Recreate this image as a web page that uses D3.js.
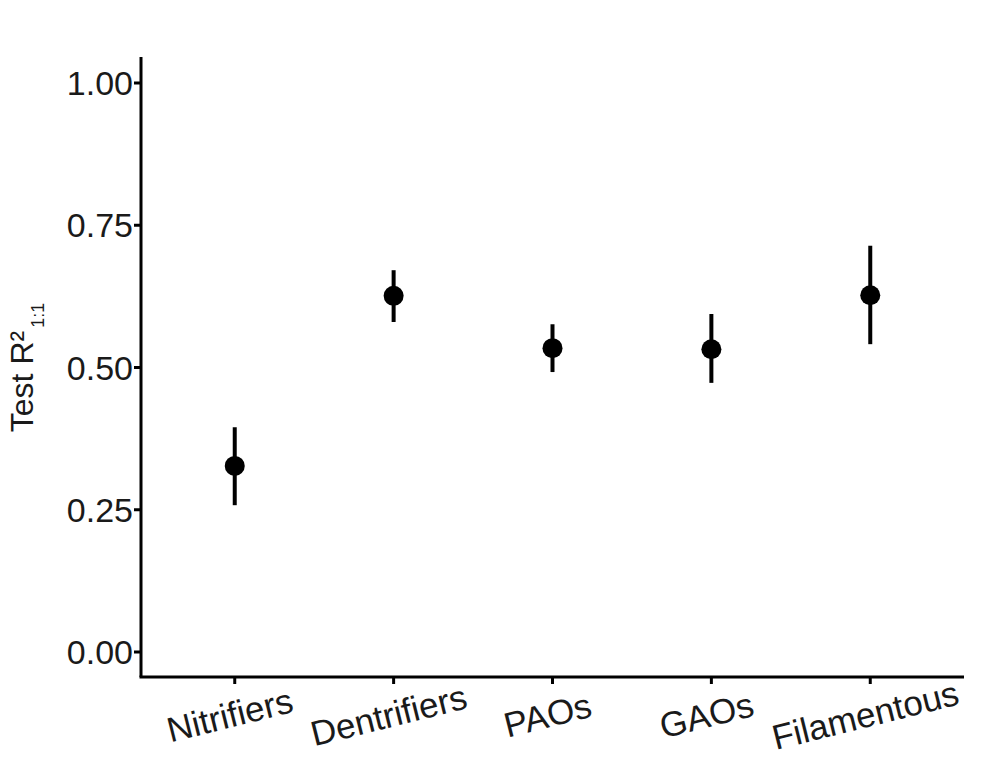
<!DOCTYPE html><html><head><meta charset="utf-8"><script src="https://d3js.org/d3.v7.min.js"></script>
<style>body{margin:0;background:#fff}</style></head><body><script>
const categories=["Nitrifiers","Dentrifiers","PAOs","GAOs","Filamentous"];
const means=[0.327,0.626,0.534,0.532,0.627];
const lows=[0.258,0.580,0.492,0.473,0.541];
const highs=[0.395,0.671,0.576,0.594,0.714];
const yTicks=[0,0.25,0.5,0.75,1];
const W=984,H=766,L=141,R=964,T=57,B=677;
const svg=d3.select("body").append("svg").attr("width",W).attr("height",H);
const x=d3.scalePoint().domain(categories).range([L,R]).padding(0.59);
const y=d3.scaleLinear().domain([0,1]).range([652,83]);
const f="Liberation Sans, Arial, sans-serif";
svg.append("line").attr("x1",L).attr("x2",L).attr("y1",T).attr("y2",B).attr("stroke","#000").attr("stroke-width",3);
svg.append("line").attr("x1",L-1.5).attr("x2",R).attr("y1",B).attr("y2",B).attr("stroke","#000").attr("stroke-width",3);
yTicks.forEach(t=>{
 svg.append("line").attr("x1",L-7).attr("x2",L).attr("y1",y(t)).attr("y2",y(t)).attr("stroke","#000").attr("stroke-width",3);
 svg.append("text").attr("x",L-8).attr("y",y(t)).attr("dy","0.36em").attr("text-anchor","end").attr("font-family",f).attr("font-size",34).attr("fill","#1a1a1a").text(d3.format(".2f")(t));
});
categories.forEach((c,i)=>{
 const cx=x(c);
 svg.append("line").attr("x1",cx).attr("x2",cx).attr("y1",B).attr("y2",B+7).attr("stroke","#000").attr("stroke-width",3);
 svg.append("text").attr("transform",`translate(${cx-2},${B+50}) rotate(-14)`).attr("text-anchor","middle").attr("font-family",f).attr("font-size",35).attr("fill","#1a1a1a").text(c);
 svg.append("line").attr("x1",cx).attr("x2",cx).attr("y1",y(lows[i])).attr("y2",y(highs[i])).attr("stroke","#000").attr("stroke-width",4);
 svg.append("circle").attr("cx",cx).attr("cy",y(means[i])).attr("r",10).attr("fill","#000");
});
const tt=svg.append("text").attr("transform",`translate(33,${y(0.5)}) rotate(-90)`).attr("text-anchor","middle").attr("font-family",f).attr("font-size",32).attr("fill","#1a1a1a");
tt.append("tspan").text("Test R²");
tt.append("tspan").attr("font-size",18).attr("dy",11).attr("dx",3).text("1:1");
</script></body></html>
